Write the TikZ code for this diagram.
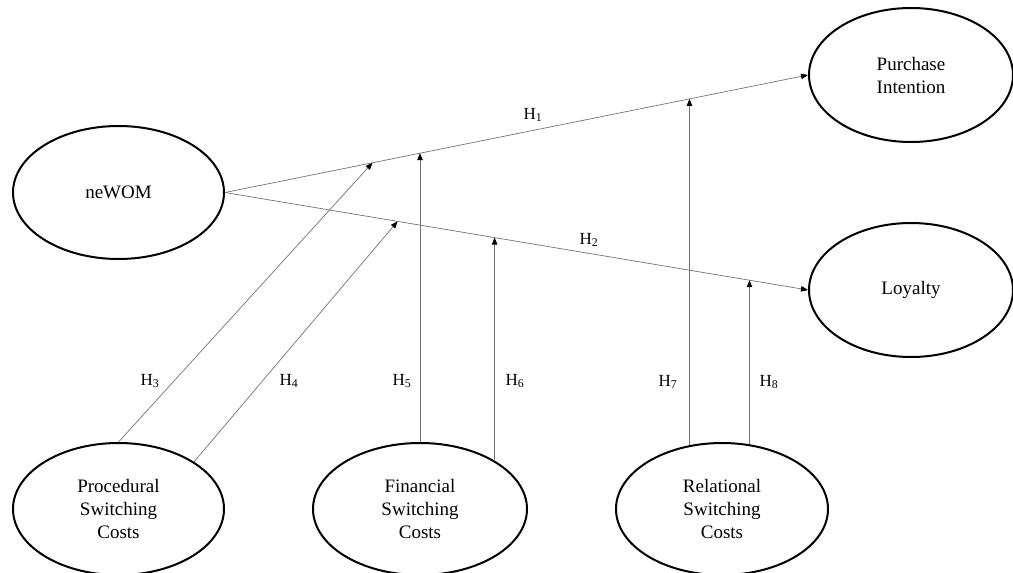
\documentclass[tikz,border=0pt]{standalone}
\usepackage{fontspec}
\setmainfont{Liberation Serif}
\usetikzlibrary{arrows.meta,intersections,shapes.geometric}

\begin{document}
\begin{tikzpicture}[x=1pt,y=-1pt,
  construct/.style={ellipse, draw=black, line width=2pt, inner sep=0pt,
    align=center, font=\fontsize{19}{23}\selectfont},
  path link/.style={draw=black!55, line width=0.7pt,
    -{Triangle[length=7pt,width=5.5pt,fill=black,color=black]}},
  hyp/.style={font=\fontsize{17}{20}\selectfont, inner sep=0pt}
]
\useasboundingbox (0,0) rectangle (1013,573);

% constructs
\node[construct, minimum width=211pt, minimum height=133pt] (W)  at (118.5,192.5) {neWOM};
\node[construct, minimum width=204pt, minimum height=134pt] (PI) at (911,75) {Purchase\\Intention};
\node[construct, minimum width=204pt, minimum height=134pt] (L)  at (911,290) {Loyalty};
\node[construct, minimum width=211pt, minimum height=132pt] (P)  at (118.5,509) {Procedural\\Switching\\Costs};
\node[construct, minimum width=214pt, minimum height=132pt] (F)  at (420,509) {Financial\\Switching\\Costs};
\node[construct, minimum width=212pt, minimum height=132pt] (R)  at (722,509) {Relational\\Switching\\Costs};

% direct effects
\draw[path link, name path=l1] (W.east) -- (PI.west);
\draw[path link, name path=l2] (W.east) -- (L.west);

% points where the moderating paths meet the direct effects
\path (W.east) -- (PI.west) coordinate[pos=0.253] (t3);
\path (W.east) -- (L.west) coordinate[pos=0.296] (t4);
\path[name path=v5] (F.north) -- ++(0,-500);
\path[name path=v6] (F.33) -- ++(0,-500);
\path[name path=v7] (R.117) -- ++(0,-500);
\path[name path=v8] (R.67) -- ++(0,-500);
\path[name intersections={of=v5 and l1, by=t5}];
\path[name intersections={of=v6 and l2, by=t6}];
\path[name intersections={of=v7 and l1, by=t7}];
\path[name intersections={of=v8 and l2, by=t8}];

% moderating effects
\draw[path link] (P.north) -- (t3);
\draw[path link] (P.32) -- (t4);
\draw[path link] (F.north) -- (t5);
\draw[path link] (F.33) -- (t6);
\draw[path link] (R.117) -- (t7);
\draw[path link] (R.67) -- (t8);

% hypothesis labels
\node[hyp] (h1) at (533,115) {H\textsubscript{1}};
\node[hyp] (h2) at (589,240) {H\textsubscript{2}};
\node[hyp] (h3) at (150,381) {H\textsubscript{3}};
\node[hyp] (h4) at (289,381) {H\textsubscript{4}};
\node[hyp] (h5) at (402,381) {H\textsubscript{5}};
\node[hyp] (h6) at (515,381) {H\textsubscript{6}};
\node[hyp] (h7) at (668,382) {H\textsubscript{7}};
\node[hyp] (h8) at (769,382) {H\textsubscript{8}};
\end{tikzpicture}
\end{document}
